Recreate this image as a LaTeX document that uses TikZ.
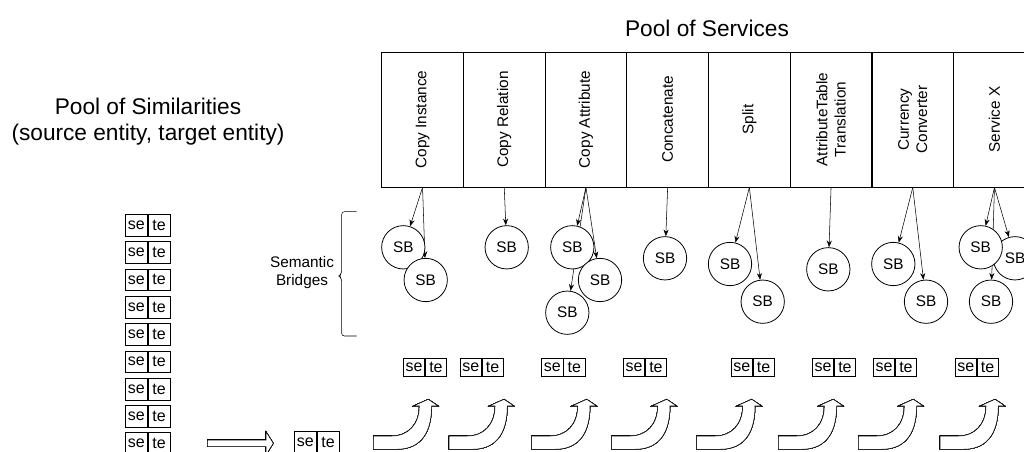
\documentclass[tikz,border=0pt]{standalone}
\usepackage{fontspec}
\setmainfont{Liberation Sans}
\usetikzlibrary{arrows.meta,backgrounds}

\tikzset{
  heading/.style={align=center,font=\fontsize{17}{19.5}\selectfont},
  service/.style={draw,rotate=90,minimum width=101.25pt,minimum height=61.3pt,
    align=center,inner sep=1pt,font=\fontsize{11.5}{13.8}\selectfont},
  bridge/.style={draw,circle,fill=white,minimum size=32.5pt,inner sep=0pt,
    font=\fontsize{11.5}{13.8}\selectfont},
  cell/.style={draw,minimum width=16.6pt,minimum height=16.3pt,inner sep=0pt,
    font=\fontsize{12}{14}\selectfont},
  rowcell/.style={cell,minimum width=16pt,minimum height=13.3pt},
  hollow/.style={draw,fill=white},
}
% one similarity: source entity | target entity, split at #3
\newcommand\sepair[3][cell]{%
  \node[#1,anchor=east] (#2s) at (#3) {se};
  \node[#1,anchor=west] (#2t) at (#3) {te};}

\begin{document}
\begin{tikzpicture}[x=0.75pt,y=-0.75pt,line width=0.6pt,>={Stealth[length=5pt,width=3.8pt]}]
  \useasboundingbox (0,0) rectangle (1024,452);
  \clip (0,0) rectangle (1024,452);

  % headings
  \node[heading] (pserv) at (707,28) {Pool of Services};
  \node[heading] (psim) at (148,122) {Pool of Similarities\\(source entity, target entity)};

  % services
  \foreach \i/\lbl in {1/Copy Instance,2/Copy Relation,3/Copy Attribute,4/Concatenate,
      5/Split,6/{AttributeTable\\Translation},7/{Currency\\Converter},8/Service X}
    \node[service] (s\i) at ({381.7+81.7*(\i-0.5)},119.5) {\lbl};

  % semantic bridges
  \node[bridge] (b11) at (403.3,247.3) {SB};
  \node[bridge] (b12) at (425.7,280) {SB};
  \node[bridge] (b21) at (506.7,247.3) {SB};
  \node[bridge] (b31) at (572.3,247.3) {SB};
  \node[bridge] (b32) at (600,280) {SB};
  \node[bridge] (b33) at (567.3,312.7) {SB};
  \node[bridge] (b41) at (665,258.3) {SB};
  \node[bridge] (b51) at (730,264) {SB};
  \node[bridge] (b52) at (762.7,301.7) {SB};
  \node[bridge] (b61) at (828.3,269.3) {SB};
  \node[bridge] (b71) at (893.3,264) {SB};
  \node[bridge] (b72) at (926,301.7) {SB};
  \node[bridge] (b82) at (1015,258.3) {SB};
  \node[bridge] (b81) at (980.7,247.3) {SB};
  \node[bridge] (b83) at (991,301.7) {SB};

  \begin{pgfonlayer}{background}
    \foreach \a/\b in {s1/b11,s1/b12,s2/b21,s3/b31,s3/b32,s3/b33,s4/b41,s5/b51,
        s5/b52,s6/b61,s7/b71,s7/b72,s8/b81,s8/b82,s8/b83}
      \draw[->] (\a.west) -- (\b);
  \end{pgfonlayer}

  \draw[rounded corners=2pt] (356.7,211.7) -- (341.7,211.7) -- (341.7,273)
    -- (339,276) -- (341.7,279) -- (341.7,336) -- (356.7,336);
  \node[align=center,font=\fontsize{11.5}{14}\selectfont] (sembr) at (302,272.5) {Semantic\\Bridges};

  % pool of similarities
  \foreach \k in {0,...,8}
    \sepair{c\k}{147.7,{225.2+27.3*\k}}
  \draw[hollow] (207.3,440) -- (266,440) -- (266,431.7) -- (273.3,443.3)
    -- (266,455) -- (266,446.7) -- (207.3,446.7) -- cycle;
  \sepair{m}{316.7,442.6}

  % similarities handed to the services
  \foreach \k/\x in {1/425,2/481.7,3/563.3,4/645,5/752.7,6/834,7/895,8/976.7}
    \sepair[rowcell]{p\k}{\x,367.2}
  \foreach \x in {428.3,504,586.7,666.7,751.7,833.3,913.3,995}
    \draw[hollow,shift={(\x,399.3)}] (0,0) -- (10,6.7) -- (3.3,6.7)
      .. controls (3.3,30) and (-5,50) .. (-31.7,50) -- (-55,50) -- (-55,36.7)
      -- (-36.7,36.7) .. controls (-20,36.7) and (-9,25) .. (-9,6.7) -- (-15,6.7) -- cycle;
\end{tikzpicture}
\end{document}
